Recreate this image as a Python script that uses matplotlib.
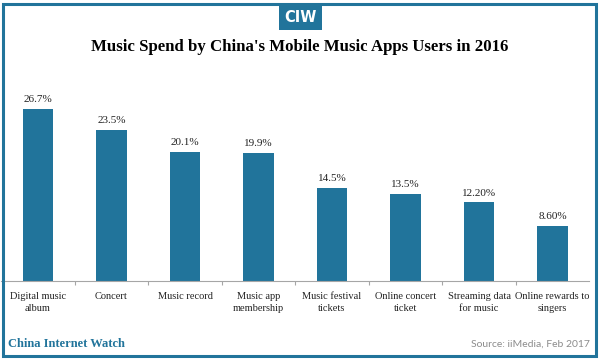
#!/usr/bin/env python3
"""Music spend by China's mobile music app users, 2016 (CIW style bar chart)."""
import matplotlib

matplotlib.use("Agg")
import matplotlib.pyplot as plt
from matplotlib.patches import Rectangle

# Data
CATEGORIES = [
    "Digital music\nalbum",
    "Concert",
    "Music record",
    "Music app\nmembership",
    "Music festival\ntickets",
    "Online concert\nticket",
    "Streaming data\nfor music",
    "Online rewards to\nsingers",
]
VALUES = [26.7, 23.5, 20.1, 19.9, 14.5, 13.5, 12.2, 8.6]
VALUE_LABELS = ["26.7%", "23.5%", "20.1%", "19.9%", "14.5%", "13.5%", "12.20%", "8.60%"]

TITLE = "Music Spend by China's Mobile Music Apps Users in 2016"
BRAND = "China Internet Watch"
SOURCE = "Source: iiMedia, Feb 2017"

BLUE = "#21749b"
SERIF = ["Liberation Serif", "DejaVu Serif"]

W, H = 600, 359
fig = plt.figure(figsize=(W / 100, H / 100), dpi=100)

# outer frame
fig.patches.append(Rectangle((3 / W, 3 / H), 593 / W, 352 / H, transform=fig.transFigure,
                             fill=False, edgecolor=BLUE, linewidth=2.2))

# CIW logo box
fig.patches.append(Rectangle((279 / W, (H - 30) / H), 43 / W, 26 / H, transform=fig.transFigure,
                             facecolor=BLUE, edgecolor="none"))
fig.text(300.5 / W, (H - 17) / H, "CIW", ha="center", va="center", color="white",
         fontsize=10.5, fontweight="bold", family=["Liberation Sans Narrow", "DejaVu Sans"])

fig.text(0.5, (H - 47) / H, TITLE, ha="center", va="center", fontsize=12.1,
         fontweight="bold", family=SERIF)

# axes: baseline at y=281 px, ~6.44 px per percent
left, right = 1.25, 589.25
base = 281
ymax = 30
top = base - ymax * 6.44
ax = fig.add_axes([left / W, (H - base) / H, (right - left) / W, (base - top) / H])
ax.set_facecolor("none")

x = list(range(len(VALUES)))
bars = ax.bar(x, VALUES, width=0.41, color=BLUE, zorder=2)
for b, lab in zip(bars, VALUE_LABELS):
    ax.annotate(lab, (b.get_x() + b.get_width() / 2, b.get_height()),
                xytext=(0, 3.5), textcoords="offset points", ha="center", va="bottom",
                fontsize=8, family=SERIF, color="#222222")

ax.set_xlim(-0.5, len(VALUES) - 0.5)
ax.set_ylim(0, ymax)
for s in ("top", "right", "left"):
    ax.spines[s].set_visible(False)
ax.spines["bottom"].set_color("#a6a6a6")
ax.spines["bottom"].set_linewidth(0.8)
ax.set_yticks([])
ax.set_xticks(x)
ax.set_xticklabels(CATEGORIES, fontsize=7.5, family=SERIF, color="#222222", linespacing=1.45)
ax.tick_params(axis="x", which="major", length=0, pad=8)
ax.set_xticks([i + 0.5 for i in x[:-1]], minor=True)
ax.tick_params(axis="x", which="minor", length=3, color="#a6a6a6", width=0.8)

fig.text(8 / W, (H - 344) / H, BRAND, ha="left", va="center", fontsize=9,
         fontweight="bold", color=BLUE, family=SERIF)
fig.text(590 / W, (H - 344) / H, SOURCE, ha="right", va="center", fontsize=7.5,
         color="#8c8c8c", family=["Lato", "DejaVu Sans"])

fig.savefig("out.png", dpi=100)
